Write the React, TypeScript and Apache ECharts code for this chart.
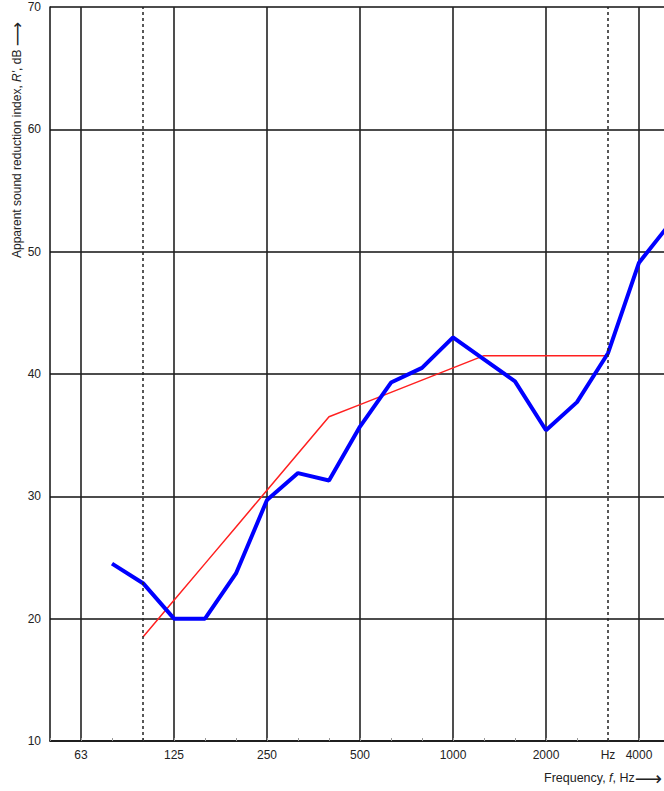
import React, { useEffect, useRef } from "react";
import * as echarts from "echarts";

const bands = ["50", "63", "80", "100", "125", "160", "200", "250", "315", "400", "500", "630", "800", "1000", "1250", "1600", "2000", "2500", "3150", "4000", "5000"];
const measured = [null, null, 24.5, 22.9, 20.0, 20.0, 23.7, 29.7, 31.9, 31.3, 35.7, 39.3, 40.5, 43.0, 41.2, 39.4, 35.4, 37.7, 41.7, 49.1, 52.3];
const reference = [null, null, null, 18.5, 21.5, 24.5, 27.5, 30.5, 33.5, 36.5, 37.5, 38.5, 39.5, 40.5, 41.5, 41.5, 41.5, 41.5, 41.5, null, null];
const labelMap: Record<string, string> = { "63": "63", "125": "125", "250": "250", "500": "500", "1000": "1000", "2000": "2000", "3150": "Hz", "4000": "4000" };
const octaveLines = ["63", "125", "250", "500", "1000", "2000", "4000"];
const dashedLines = ["100", "3150"];
const yTicks = { min: 10, max: 70, interval: 10 };

export default function App() {
  const ref = useRef<HTMLDivElement>(null);
  useEffect(() => {
    if (!ref.current) return;
    const chart = echarts.init(ref.current, undefined, { renderer: "svg" });
    const font = "'Liberation Sans', Arial, sans-serif";
    chart.setOption({
      animation: false,
      grid: { left: 50, top: 7, right: 10, bottom: 50, containLabel: false },
      xAxis: {
        type: "category",
        data: bands,
        boundaryGap: false,
        axisLine: { show: true, lineStyle: { color: "#111", width: 1.5 } },
        axisTick: { show: true, inside: true, length: 3, interval: 0, lineStyle: { color: "#999", width: 1 } },
        axisLabel: {
          interval: (i: number, v: string) => labelMap[v] !== undefined,
          formatter: (v: string) => labelMap[v] ?? "",
          color: "#222",
          fontSize: 12,
          fontFamily: font,
          margin: 8,
        },
        splitLine: {
          show: true,
          interval: (i: number, v: string) => octaveLines.includes(v),
          lineStyle: { color: "#222", width: 1.6 },
        },
      },
      yAxis: {
        type: "value",
        min: yTicks.min,
        max: yTicks.max,
        interval: yTicks.interval,
        axisLine: { show: true, lineStyle: { color: "#111", width: 1.5 } },
        axisTick: { show: false },
        axisLabel: { color: "#222", fontSize: 12, fontFamily: font, margin: 9 },
        splitLine: { show: true, lineStyle: { color: "#111", width: 1.5 } },
      },
      graphic: [
        {
          type: "text",
          x: 17,
          y: 258,
          rotation: Math.PI / 2,
          style: {
            text: "Apparent sound reduction index, {i|R'}, dB {a|⟶}",
            rich: {
              i: { fontStyle: "italic", fontSize: 12, fontFamily: font, fill: "#222" },
              a: { fontSize: 17, fontFamily: "DejaVu Sans", fill: "#222" },
            },
            fontSize: 12,
            fontFamily: font,
            fill: "#222",
            align: "left",
            verticalAlign: "middle",
          },
        },
        {
          type: "text",
          x: 662,
          y: 778,
          style: {
            text: "Frequency, {i|f}, Hz{a|⟶}",
            rich: {
              i: { fontStyle: "italic", fontSize: 12.5, fontFamily: font, fill: "#222" },
              a: { fontSize: 19, fontFamily: "DejaVu Sans", fill: "#222" },
            },
            fontSize: 12.5,
            fontFamily: font,
            fill: "#222",
            align: "right",
            verticalAlign: "middle",
          },
        },
      ],
      series: [
        {
          type: "line",
          data: reference,
          showSymbol: false,
          lineStyle: { color: "#ff2020", width: 1.5 },
          z: 3,
          markLine: {
            silent: true,
            symbol: ["none", "none"],
            label: { show: false },
            lineStyle: { color: "#222", width: 1.5, type: [3, 3] },
            data: dashedLines.map((v) => ({ xAxis: v })),
          },
        },
        {
          type: "line",
          data: measured,
          showSymbol: false,
          lineStyle: { color: "#0000ff", width: 4 },
          z: 4,
        },
      ],
    });
    return () => chart.dispose();
  }, []);
  return (
    <div style={{ position: "fixed", left: 0, top: 0, width: 664, height: 791, overflow: "hidden", background: "#fff" }}>
      <div ref={ref} style={{ width: 680, height: 791 }} />
    </div>
  );
}
